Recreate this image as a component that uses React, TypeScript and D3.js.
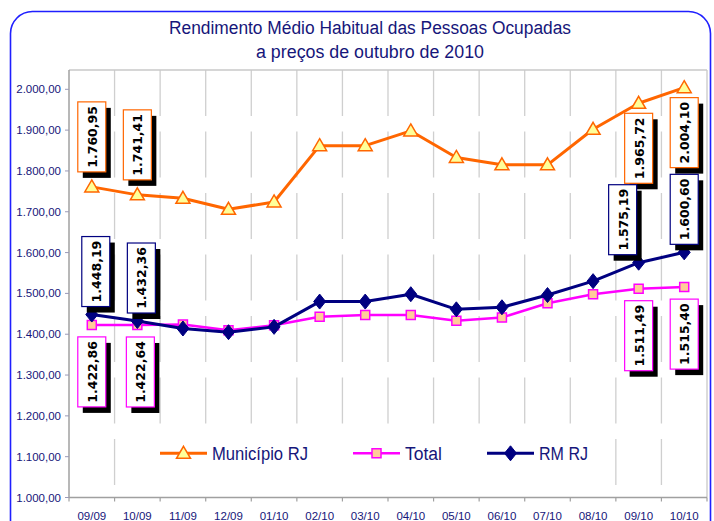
import * as React from 'react';
import * as d3 from 'd3';

// Rendimento médio habitual (R$)
const categories = ['09/09', '10/09', '11/09', '12/09', '01/10', '02/10', '03/10', '04/10', '05/10', '06/10', '07/10', '08/10', '09/10', '10/10'];
const municipioRJ = [1760.95, 1741.41, 1733, 1706, 1724, 1862, 1862, 1898, 1833, 1815, 1815, 1902, 1965.72, 2004.1];
const total = [1422.86, 1422.64, 1424, 1410, 1422, 1443, 1447, 1447, 1433, 1441, 1476, 1498, 1511.49, 1515.4];
const rmRJ = [1448.19, 1432.36, 1414, 1405, 1418, 1480, 1480, 1498, 1461, 1466, 1496, 1530, 1575.19, 1600.6];
const yTicks = [1000, 1100, 1200, 1300, 1400, 1500, 1600, 1700, 1800, 1900, 2000];
const labeledIdx = [0, 1, 12, 13];
const titleLines = ['Rendimento Médio Habitual das Pessoas Ocupadas', 'a preços de outubro de 2010'];

const W = 714;
const H = 521;
const plot = { left: 69, right: 707, top: 70, bottom: 497.5 };
const textColor = '#16167a';

const br = d3.formatLocale({ decimal: ',', thousands: '.', grouping: [3], currency: ['R$ ', ''] });
const fmt = br.format(',.2f');

type Marker = 'triangle' | 'square' | 'diamond';

interface Series {
  name: string;
  values: number[];
  color: string;
  fill: string;
  marker: Marker;
  width: number;
  side: (i: number) => 'above' | 'below';
  gap: (i: number) => number;
  nudge: (i: number) => number;
  legendWidth: number;
}

const series: Series[] = [
  {
    name: 'Município RJ', values: municipioRJ, color: '#ff6600', fill: '#ffff99', marker: 'triangle', width: 3,
    side: (i) => (i < 2 ? 'above' : 'below'), gap: (i) => (i < 2 ? 15 : 10), nudge: () => 0, legendWidth: 96,
  },
  {
    name: 'Total', values: total, color: '#ff00ff', fill: '#ffcc99', marker: 'square', width: 2.5,
    side: () => 'below', gap: () => 12, nudge: (i) => (i === 1 ? 3 : 0), legendWidth: 37,
  },
  {
    name: 'RM RJ', values: rmRJ, color: '#000080', fill: '#000080', marker: 'diamond', width: 3,
    side: () => 'above', gap: () => 8, nudge: (i) => (i === 12 ? -16 : i < 2 ? 4 : 0), legendWidth: 49,
  },
];

function markerPath(m: Marker): string {
  if (m === 'triangle') return 'M0,-7L7,5L-7,5Z';
  if (m === 'square') return 'M-4.5,-4.5H4.5V4.5H-4.5Z';
  return 'M0,-7.5L6,0L0,7.5L-6,0Z';
}

function MarkerShape({ s, x, y }: { s: Series; x: number; y: number }) {
  return (
    <path
      d={markerPath(s.marker)}
      transform={`translate(${x},${y})`}
      fill={s.fill}
      stroke={s.color}
      strokeWidth={s.marker === 'diamond' ? 1 : 1.5}
      strokeLinejoin="miter"
    />
  );
}

export default function App() {
  const x = d3.scaleBand<string>().domain(categories).range([plot.left, plot.right]);
  const y = d3.scaleLinear().domain([1000, 2000]).range([497.5, 89.3]);
  const cx = (c: string) => (x(c) as number) + x.bandwidth() / 2;
  const line = d3.line<number>().x((_, i) => cx(categories[i])).y((v) => y(v));

  const boundaries = categories.map((c) => x(c) as number).slice(1);

  // legend layout
  let lx = 160;
  const legendItems = series.map((s) => {
    const item = { s, x0: lx, x1: lx + 47, tx: lx + 52 };
    lx = item.tx + s.legendWidth + 45;
    return item;
  });

  const boxW = 28;
  const boxH = 70;

  return (
    <svg width={W} height={H} style={{ position: 'absolute', left: 0, top: 0, background: '#fff' }}
      fontFamily="'Liberation Sans', Arial, sans-serif">
      <rect x={10.5} y={11.5} width={700} height={540} rx={22} fill="#fff" stroke="#1f1fff" strokeWidth={1.6} />

      {titleLines.map((t, i) => (
        <text key={t} x={370} y={34 + i * 23.5} textAnchor="middle" fontSize={18} fill={textColor}
          textLength={i === 0 ? 402 : 228} lengthAdjust="spacingAndGlyphs">{t}</text>
      ))}

      {/* grid */}
      {boundaries.map((b) => (
        <line key={b} x1={b} x2={b} y1={plot.top} y2={plot.bottom} stroke="#cfcfcf" strokeWidth={1.3}
          strokeDasharray="46 15.5" />
      ))}
      <line x1={plot.left} x2={plot.right} y1={plot.top} y2={plot.top} stroke="#c8c8c8" strokeWidth={1.3} />
      <line x1={plot.right} x2={plot.right} y1={plot.top} y2={plot.bottom} stroke="#c8c8c8" strokeWidth={1.3} />

      {/* axes */}
      <line x1={plot.left} x2={plot.left} y1={plot.top} y2={plot.bottom} stroke="#a0a0a0" strokeWidth={1.5} />
      <line x1={plot.left} x2={plot.right} y1={plot.bottom} y2={plot.bottom} stroke="#a0a0a0" strokeWidth={1.5} />
      {yTicks.map((t) => (
        <g key={t}>
          <line x1={plot.left - 4} x2={plot.left} y1={y(t)} y2={y(t)} stroke="#9a9ab8" strokeWidth={1} />
          <text x={61} y={y(t) + 4} textAnchor="end" fontSize={11.5} fill={textColor}>{fmt(t)}</text>
        </g>
      ))}
      {[plot.left, ...boundaries, plot.right].map((b) => (
        <line key={'t' + b} x1={b} x2={b} y1={plot.bottom} y2={plot.bottom + 4} stroke="#a0a0a0" strokeWidth={1.2} />
      ))}
      {categories.map((c) => (
        <text key={c} x={cx(c)} y={520} textAnchor="middle" fontSize={11.5} fill={textColor}>{c}</text>
      ))}

      {/* legend */}
      <rect x={150} y={437} width={450} height={48} fill="#fff" />
      {legendItems.map(({ s, x0, x1, tx }) => (
        <g key={s.name}>
          <line x1={x0} x2={x1} y1={453.3} y2={453.3} stroke={s.color} strokeWidth={s.width} />
          <MarkerShape s={s} x={(x0 + x1) / 2} y={453.3} />
          <text x={tx} y={459.5} fontSize={18} fill={textColor} textLength={s.legendWidth}
            lengthAdjust="spacingAndGlyphs">{s.name}</text>
        </g>
      ))}

      {/* series */}
      {series.map((s) => (
        <g key={s.name}>
          <path d={line(s.values) ?? ''} fill="none" stroke={s.color} strokeWidth={s.width} strokeLinejoin="round" />
          {s.values.map((v, i) => (
            <MarkerShape key={i} s={s} x={cx(categories[i])} y={y(v)} />
          ))}
        </g>
      ))}

      {/* data labels */}
      {series.map((s) =>
        labeledIdx.map((i) => {
          const px = cx(categories[i]) + s.nudge(i);
          const py = y(s.values[i]);
          const top = s.side(i) === 'above' ? py - s.gap(i) - boxH : py + s.gap(i);
          const left = px - boxW / 2;
          return (
            <g key={s.name + i}>
              <rect x={left + 5} y={top + 6} width={boxW} height={boxH} fill="#000" />
              <rect x={left} y={top} width={boxW} height={boxH} fill="#fff" stroke={s.color} strokeWidth={1.2} />
              <text
                transform={`translate(${px + 5},${top + boxH / 2}) rotate(-90)`}
                textAnchor="middle"
                fontFamily="'DejaVu Sans', sans-serif"
                fontWeight="bold"
                fontSize={12.5}
                fill="#000"
              >
                {fmt(s.values[i])}
              </text>
            </g>
          );
        })
      )}
    </svg>
  );
}
